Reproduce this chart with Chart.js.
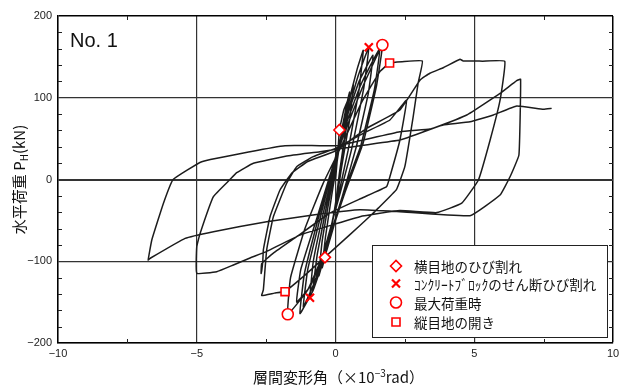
<!doctype html>
<html lang="ja">
<head>
  <meta charset="utf-8" />
  <title>No. 1 水平荷重－層間変形角</title>
  <style>
    html, body { margin: 0; padding: 0; background: #fff; }
    .chartBox { position: relative; width: 627px; height: 389px; }
  </style>
</head>
<body>
<div class="chartBox"><canvas id="loopChart"></canvas></div>
<script src="https://cdn.jsdelivr.net/npm/chart.js@4.4.1/dist/chart.umd.min.js"></script>
<script>
  // drift angle (x10^-3 rad) / horizontal load (kN)

  // small steep cycles around the origin
  var smallX = [0, 0.08, 0.14, 0.3, 0.45,
    0.36, 0.15, 0.02, -0.15, -0.38, -0.48,
    -0.36, -0.14, 0.05, 0.25, 0.5,
    0.4, 0.15, 0.0, -0.3, -0.6,
    -0.48, -0.2, 0.05, 0.35, 0.64,
    0.52, 0.22, 0.02, -0.35, -0.8,
    -0.65, -0.28, 0.0, 0.4, 0.78, 1.0,
    0.85, 0.45, 0.1, -0.35, -0.92,
    -0.8, -0.4, -0.05, 0.35, 0.8, 1.2,
    1.02, 0.6, 0.18, -0.35, -0.75, -1.16,
    -1.0, -0.5, -0.1, 0.35, 0.85, 1.35,
    1.18, 0.75, 0.25, -0.3, -0.8, -1.28,
    -1.12, -0.6, -0.15, 0.3, 0.9, 1.6,
    1.4, 0.9, 0.3, -0.35, -0.9, -1.4,
    -1.25, -0.65, -0.2, 0.3, 1.0, 1.69,
    1.48, 1.0, 0.35, -0.3, -1.0, -1.72];
  var smallY = [0, 30, 60, 85, 97,
    60, 10, -25, -60, -95, -108,
    -70, -20, 20, 65, 107,
    65, 10, -30, -80, -118,
    -75, -20, 25, 75, 116,
    75, 15, -30, -90, -132,
    -90, -25, 20, 85, 135, 158,
    110, 35, -20, -85, -145,
    -100, -35, 15, 70, 125, 162,
    112, 40, -15, -80, -125, -156,
    -110, -40, 15, 70, 120, 152,
    105, 40, -20, -85, -135, -164,
    -115, -45, 10, 60, 115, 161,
    110, 40, -15, -85, -130, -150,
    -110, -45, 5, 55, 115, 164.5,
    115, 45, -15, -80, -135, -165];

  // cycles to about +3 / -2.7
  var midX = [-1.62, -1.1, -0.45, 0.2, 0.95, 1.6, 1.95, 2.4, 3.13,
    2.98, 2.8, 2.5, 2.2, 1.54, 1.24, 0.5, -0.38, -1.1, -1.82, -2.2, -2.66,
    -2.6, -2.48, -2.24, -1.76, -1.4, -0.8, 0, 1.12, 1.96, 2.56,
    2.32, 1.96, 1.84, 1.0, -0.2, -1.4, -2.24, -2.66, -2.68];
  var midY = [-120, -60, -5, 40, 95, 132, 142.5, 144, 145,
    118.5, 77, 16, -12, -35, -45, -68, -95, -117, -137, -139, -142,
    -135, -86, -45.5, -4.6, 15.7, 28, 38, 58.5, 72.8, 97,
    48, 3.4, -8.8, -22, -41, -70, -90, -103, -115];

  // cycle to about +6 / -5
  var largeX = [-2.62, -2.6, -2.36, -2.0, -1.58, -1.0, 0, 1.12, 2.32, 3.05, 3.4, 3.9, 4.49, 4.6, 5.3, 6.1,
    5.93, 5.57, 5.15, 4.55, 3.65, 2.32, 0.88, -1.28, -2.48, -3.08, -3.68, -4.28, -5.0,
    -5.0, -4.88, -4.4, -3.8, -3.56, -2.96, -1.76, -0.56, 1.0, 2.32, 3.52, 4.73, 5.93, 6.53, 6.67];
  var largeY = [-100, -86, -45.5, -12.8, 7.6, 22, 35, 62.6, 85, 121.7, 130, 137, 147, 145, 144.8, 144.5,
    97, 48, -0.6, -29, -40.5, -38, -45.5, -68, -88, -96, -104.6, -112.8, -114.7,
    -82, -66, -21, 0, 8.3, 19.8, 28.7, 34, 42, 48.3, 62.6, 78.9, 105.4, 120.9, 122.6];

  // last cycle to -6.8 and final push
  var lastX = [6.61, 6.29, 5.93, 4.85, 2.32, 0.88, -0.5, -2.48, -4.4, -5.42, -6.68, -6.75,
    -6.62, -6.2, -5.85, -4.82, -3.08, -1.82, -0.56, 0.16, 2.32, 3.4, 3.88, 4.85, 5.69, 6.53, 7.49, 7.79];
  var lastY = [30, 3.4, -19, -44.3, -39.4, -37, -42, -51.6, -63.8, -72, -96.4, -98.5,
    -74, -29, 0, 21.8, 34, 41.4, 41.4, 42, 58.5, 61.8, 66.7, 70.7, 78.9, 89.9, 85.9, 87];

  // events
  var crackX = [0.14, -0.38],  crackY = [60.6, -95.2];     // 横目地のひび割れ
  var shearX = [1.2, -0.92],   shearY = [161.7, -144.6];   // ブロックのせん断ひび割れ
  var peakX = [1.69, -1.72],   peakY = [164.5, -164.9];    // 最大荷重時
  var openX = [1.95, -1.82],   openY = [142.5, -137.2];    // 縦目地の開き

  var xTickValues = [-10, -5, 0, 5, 10];
  var xTickLabels = ['−10', '−5', '0', '5', '10'];
  var yTickValues = [-200, -100, 0, 100, 200];
  var yTickLabels = ['−200', '−100', '0', '100', '200'];
  var xMinor = [-7.5, -2.5, 2.5, 7.5];
  var yMinor = [-180, -160, -140, -120, -80, -60, -40, -20, 20, 40, 60, 80, 120, 140, 160, 180];

  var legendLabels = ['横目地のひび割れ', 'ｺﾝｸﾘｰﾄﾌﾞﾛｯｸのせん断ひび割れ', '最大荷重時', '縦目地の開き'];
  var legendStyles = ['rectRot', 'crossRot', 'circle', 'rect'];

  function pairs(xs, ys) {
    return xs.map(function (v, i) { return { x: v, y: ys[i] }; });
  }

  var loopX = smallX.concat(midX, largeX, lastX);
  var loopY = smallY.concat(midY, largeY, lastY);

  var latin = "'Liberation Sans', 'DejaVu Sans', sans-serif";
  var jp = "'Noto Sans CJK JP', sans-serif";
  var red = '#ff0000';

  function marker(ctx, style, x, y) {
    ctx.save();
    ctx.strokeStyle = red;
    ctx.fillStyle = '#fff';
    ctx.lineWidth = 1.6;
    ctx.beginPath();
    if (style == 'rectRot') {
      ctx.moveTo(x - 5.5, y); ctx.lineTo(x, y - 5.5); ctx.lineTo(x + 5.5, y); ctx.lineTo(x, y + 5.5); ctx.closePath();
      ctx.fill(); ctx.stroke();
    } else if (style == 'crossRot') {
      ctx.lineWidth = 2.2;
      ctx.moveTo(x - 4, y - 4); ctx.lineTo(x + 4, y + 4);
      ctx.moveTo(x + 4, y - 4); ctx.lineTo(x - 4, y + 4);
      ctx.stroke();
    } else if (style == 'circle') {
      ctx.arc(x, y, 5.5, 0, Math.PI * 2);
      ctx.fill(); ctx.stroke();
    } else {
      ctx.rect(x - 4, y - 4, 8, 8);
      ctx.fill(); ctx.stroke();
    }
    ctx.restore();
  }

  function textRun(ctx, pieces, cx, base) {
    var total = 0;
    pieces.forEach(function (p) { ctx.font = p[1]; total += ctx.measureText(p[0]).width; });
    var x = cx - total / 2;
    pieces.forEach(function (p) {
      ctx.font = p[1];
      ctx.fillText(p[0], x, base + p[2]);
      x += ctx.measureText(p[0]).width;
    });
  }

  var decor = {
    id: 'decor',
    beforeDatasetsDraw: function (chart) {
      var ctx = chart.ctx, a = chart.chartArea, sx = chart.scales.x, sy = chart.scales.y;
      ctx.save();
      ctx.strokeStyle = '#222';
      ctx.lineWidth = 1;
      ctx.beginPath();
      xMinor.forEach(function (v) {
        var px = Math.round(sx.getPixelForValue(v)) + 0.5;
        ctx.moveTo(px, a.bottom); ctx.lineTo(px, a.bottom - 4);
        ctx.moveTo(px, a.top); ctx.lineTo(px, a.top + 4);
      });
      yMinor.forEach(function (v) {
        var py = Math.round(sy.getPixelForValue(v)) + 0.5;
        ctx.moveTo(a.left, py); ctx.lineTo(a.left + 4, py);
        ctx.moveTo(a.right, py); ctx.lineTo(a.right - 4, py);
      });
      ctx.stroke();
      ctx.restore();
    },
    afterDatasetsDraw: function (chart) {
      var ctx = chart.ctx, a = chart.chartArea;
      ctx.save();
      // legend box
      var bx = a.right - 241, by = a.bottom - 98;
      ctx.fillStyle = '#fff';
      ctx.fillRect(bx, by, 235, 92);
      ctx.strokeStyle = '#222';
      ctx.lineWidth = 1;
      ctx.strokeRect(Math.round(bx) + 0.5, Math.round(by) + 0.5, 235, 92);
      var rows = [21, 38.5, 57.5, 77];
      ctx.textBaseline = 'middle';
      ctx.textAlign = 'left';
      legendLabels.forEach(function (t, i) {
        marker(ctx, legendStyles[i], bx + 24, by + rows[i]);
        ctx.fillStyle = '#111';
        ctx.font = '13.5px ' + jp;
        ctx.fillText(t, bx + 42, by + rows[i] + 1);
      });
      // specimen label
      ctx.textBaseline = 'alphabetic';
      ctx.fillStyle = '#111';
      ctx.font = '20px ' + "'Liberation Sans Narrow', " + latin;
      ctx.fillText('No. 1', a.left + 12, a.top + 31);
      // x title
      textRun(ctx, [
        ['層間変形角（×10', '15px ' + jp, 0],
        ['−3', '10px ' + jp, -6],
        ['rad）', '15px ' + jp, 0]
      ], (a.left + a.right) / 2 + 3, 383);
      // y title
      ctx.translate(20, (a.top + a.bottom) / 2);
      ctx.rotate(-Math.PI / 2);
      textRun(ctx, [
        ['水平荷重 P', '15px ' + jp, 0],
        ['H', '10px ' + jp, 3],
        ['(kN)', '15px ' + jp, 0]
      ], 0, 5);
      ctx.restore();
    }
  };

  function eventSet(xs, ys, style, r, bw) {
    return {
      data: pairs(xs, ys),
      showLine: false,
      pointStyle: style,
      pointRadius: r,
      pointBorderColor: red,
      pointBackgroundColor: '#fff',
      pointBorderWidth: bw,
      order: 0
    };
  }

  var ctx = document.getElementById('loopChart').getContext('2d');
  var chart = new Chart(ctx, {
    type: 'scatter',
    data: {
      datasets: [
        {
          data: pairs(loopX, loopY),
          showLine: true,
          borderColor: '#1c1c1c',
          borderWidth: 1.5,
          pointRadius: 0,
          tension: 0.1,
          order: 5
        },
        eventSet(crackX, crackY, 'rectRot', 5.5, 1.6),
        eventSet(shearX, shearY, 'crossRot', 5.7, 2.2),
        eventSet(peakX, peakY, 'circle', 5.5, 1.6),
        eventSet(openX, openY, 'rect', 5.6, 1.6)
      ]
    },
    options: {
      responsive: true,
      maintainAspectRatio: false,
      animation: false,
      layout: { padding: { left: 0, right: 14, top: 16, bottom: 0 } },
      plugins: { legend: { display: false }, tooltip: { enabled: false } },
      scales: {
        x: {
          type: 'linear',
          min: -10,
          max: 10,
          afterFit: function (s) { s.height = 46; },
          ticks: {
            stepSize: 5,
            padding: 4,
            color: '#222',
            font: { family: latin, size: 11 },
            maxRotation: 0,
            callback: function (v) { var i = xTickValues.indexOf(v); return i < 0 ? '' : xTickLabels[i]; }
          },
          grid: {
            drawTicks: false,
            color: function (c) { return c.tick && c.tick.value === 10 ? '#000' : '#333'; },
            lineWidth: function (c) { return c.tick && c.tick.value === 10 ? 1.5 : 1.2; }
          },
          border: { color: '#000', width: 1.5 }
        },
        y: {
          type: 'linear',
          min: -200,
          max: 200,
          afterFit: function (s) { s.width = 58; },
          ticks: {
            stepSize: 100,
            padding: 6,
            color: '#222',
            font: { family: latin, size: 11 },
            callback: function (v) { var i = yTickValues.indexOf(v); return i < 0 ? '' : yTickLabels[i]; }
          },
          grid: {
            drawTicks: false,
            color: function (c) { return c.tick && c.tick.value === 200 ? '#000' : '#333'; },
            lineWidth: function (c) {
              if (!c.tick) return 1.2;
              if (c.tick.value === 0) return 2;
              return c.tick.value === 200 ? 1.5 : 1.2;
            }
          },
          border: { color: '#000', width: 1.5 }
        }
      }
    },
    plugins: [decor]
  });
</script>
</body>
</html>
